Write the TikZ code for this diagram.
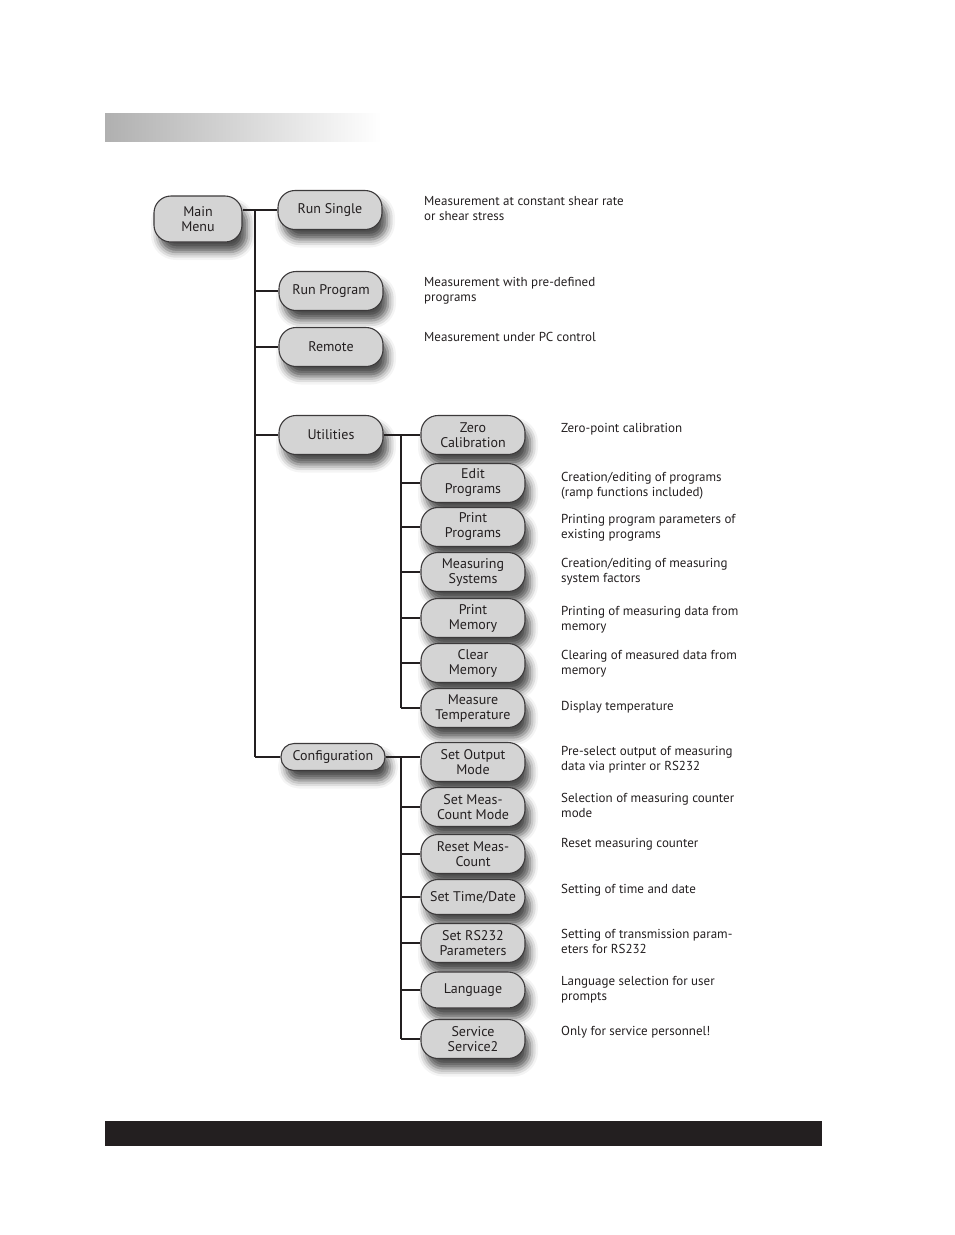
\documentclass[tikz,border=0pt]{standalone}
\usepackage{fontspec}
\setmainfont{PT Sans}
\usetikzlibrary{shadows.blur}
\definecolor{boxfill}{HTML}{D4D4D4}
\definecolor{boxline}{HTML}{3C3A3B}
\definecolor{txt}{HTML}{231F20}
\begin{document}
\begin{tikzpicture}[x=1pt,y=-1pt,
  menubox/.style={draw=boxline, line width=1.1pt, fill=boxfill, rounded corners=17pt,
    minimum width=104pt, minimum height=39pt, inner sep=0pt, align=center, text=txt,
    font=\fontsize{14}{15}\selectfont,
    blur shadow={shadow xshift=5pt, shadow yshift=-10pt, shadow blur radius=8pt, shadow opacity=70}},
  desc/.style={anchor=north west, align=left, text=txt, inner sep=0pt,
    font=\fontsize{13}{15}\selectfont},
  conn/.style={draw=txt, line width=1.2pt}]
\useasboundingbox (0,0) rectangle (954,1235);
% header gradient bar and footer bar
\shade[left color=gray!62, right color=white] (105,113) rectangle (381,141);
\fill[txt] (105,1121) rectangle (822,1146);
% top level
\node[menubox, minimum width=88pt, minimum height=46pt, rounded corners=17pt] (mm) at (198,219) {Main\\Menu};
\node[menubox] (rs) at (330,210) {Run Single};
\node[menubox] (rp) at (331,291) {Run Program};
\node[menubox] (rm) at (331,347) {Remote};
\node[menubox] (ut) at (331,435) {Utilities};
\node[menubox, minimum height=27pt, rounded corners=13pt] (cf) at (333,757) {Configuration};
% utilities sub
\node[menubox] (zc) at (473,435) {Zero\\Calibration};
\node[menubox] (ep) at (473,483) {Edit\\Programs};
\node[menubox] (pp) at (473,527) {Print\\Programs};
\node[menubox] (ms) at (473,572) {Measuring\\Systems};
\node[menubox] (pm) at (473,618) {Print\\Memory};
\node[menubox] (cm) at (473,663) {Clear\\Memory};
\node[menubox] (mt) at (473,708) {Measure\\Temperature};
% configuration sub
\node[menubox] (so) at (473,762) {Set Output\\Mode};
\node[menubox] (sc) at (473,807) {Set Meas-\\Count Mode};
\node[menubox] (rc) at (473,854) {Reset Meas-\\Count};
\node[menubox, minimum height=35pt] (st) at (473,897) {Set Time/Date};
\node[menubox] (sr) at (473,943) {Set RS232\\Parameters};
\node[menubox, minimum height=36pt] (lg) at (473,990) {Language};
\node[menubox] (sv) at (473,1039) {Service\\Service2};
% connectors
\coordinate (t1) at (255,210);
\coordinate (t2) at (255,757);
\coordinate (u1) at (401,435);
\coordinate (u2) at (401,708);
\coordinate (c1) at (401,757);
\coordinate (c2) at (401,1039);
\draw[conn] (mm.east |- rs.west) -- (rs.west);
\draw[conn] (t1) -- (t2);
\draw[conn] (t1 |- rp.west) -- (rp.west);
\draw[conn] (t1 |- rm.west) -- (rm.west);
\draw[conn] (t1 |- ut.west) -- (ut.west);
\draw[conn] (t2) -- (cf.west);
\draw[conn] (ut.east) -- (zc.west);
\draw[conn] (u1) -- (u2);
\foreach \n in {ep,pp,ms,pm,cm,mt} \draw[conn] (u1 |- \n.west) -- (\n.west);
\draw[conn] (cf.east) -- (cf.east -| so.west);
\draw[conn] (c1) -- (c2);
\foreach \n in {sc,rc,st,sr,lg,sv} \draw[conn] (c1 |- \n.west) -- (\n.west);
% descriptions
\node[desc] (d1) at (424,196) {Measurement at constant shear rate\\or shear stress};
\node[desc] (d2) at (424,277) {Measurement with pre-defined\\programs};
\node[desc] (d3) at (424,332) {Measurement under PC control};
\node[desc] (d4) at (561,423) {Zero-point calibration};
\node[desc] (d5) at (561,472) {Creation/editing of programs\\(ramp functions included)};
\node[desc] (d6) at (561,514) {Printing program parameters of\\existing programs};
\node[desc] (d7) at (561,558) {Creation/editing of measuring\\system factors};
\node[desc] (d8) at (561,606) {Printing of measuring data from\\memory};
\node[desc] (d9) at (561,650) {Clearing of measured data from\\memory};
\node[desc] (d10) at (561,701) {Display temperature};
\node[desc] (d11) at (561,746) {Pre-select output of measuring\\data via printer or RS232};
\node[desc] (d12) at (561,793) {Selection of measuring counter\\mode};
\node[desc] (d13) at (561,838) {Reset measuring counter};
\node[desc] (d14) at (561,884) {Setting of time and date};
\node[desc] (d15) at (561,929) {Setting of transmission param-\\eters for RS232};
\node[desc] (d16) at (561,976) {Language selection for user\\prompts};
\node[desc] (d17) at (561,1026) {Only for service personnel!};
\end{tikzpicture}
\end{document}
